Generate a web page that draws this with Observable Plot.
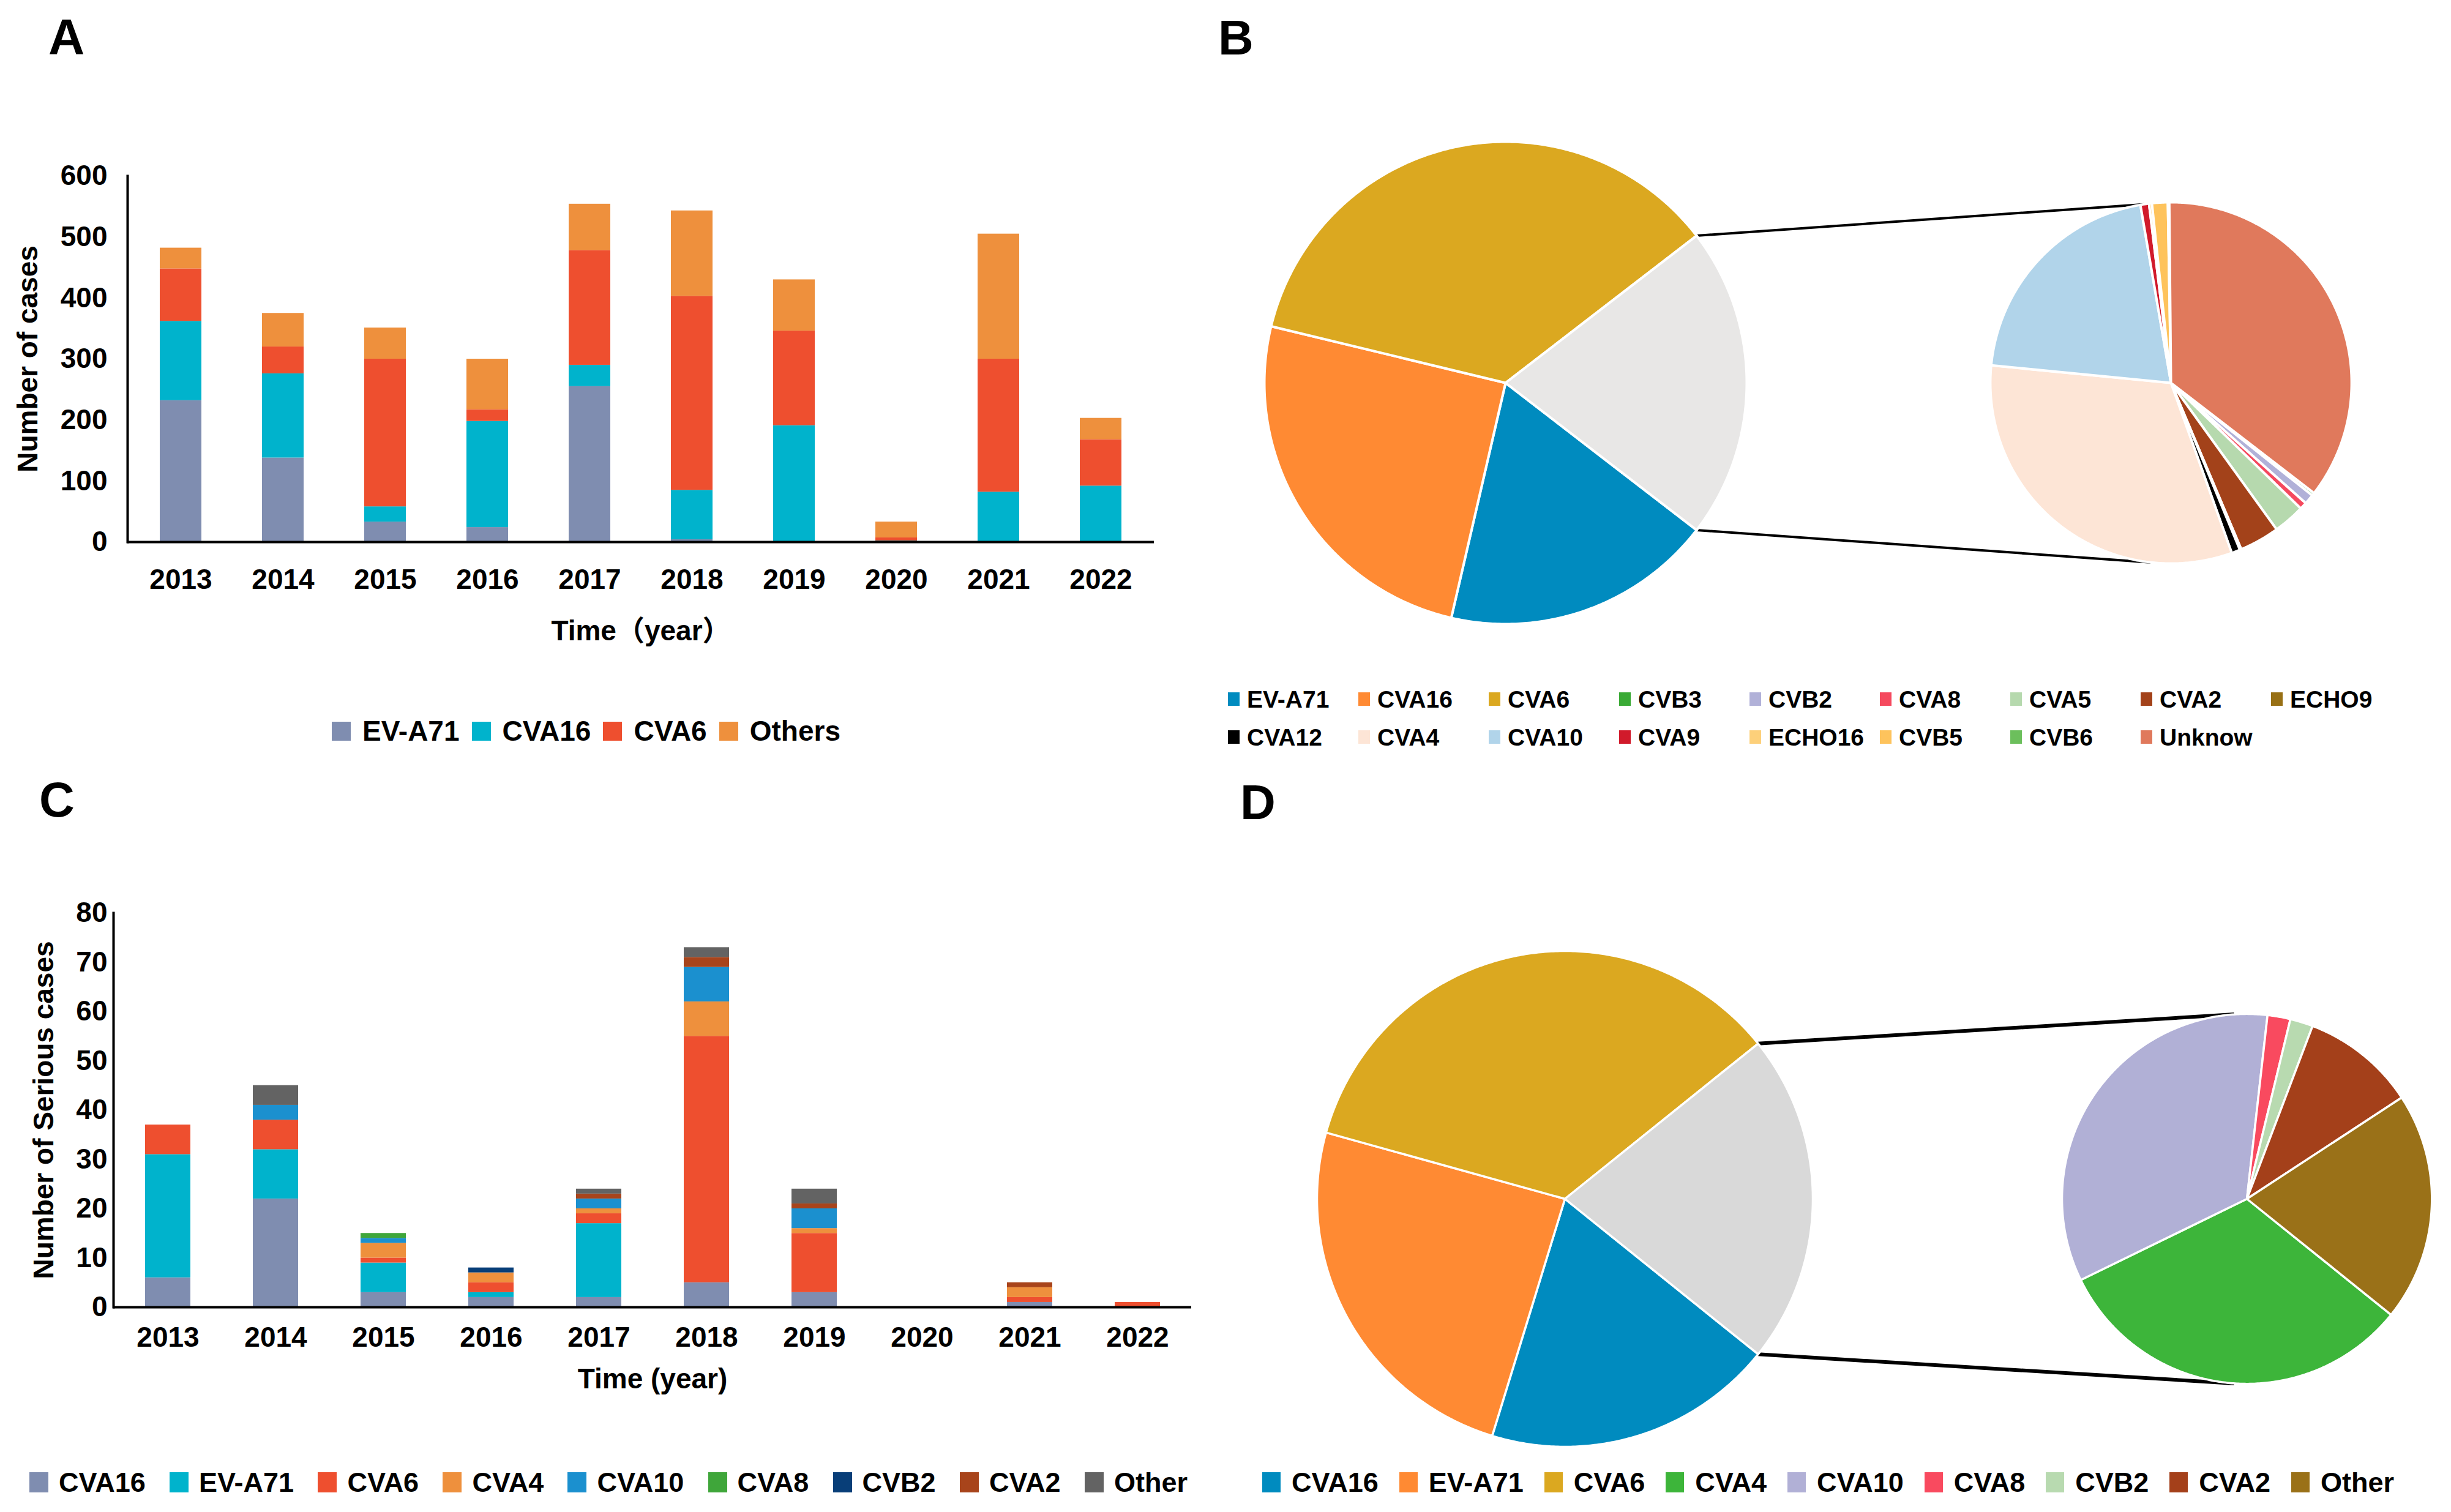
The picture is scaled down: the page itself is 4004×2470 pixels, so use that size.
<!DOCTYPE html>
<html><head><meta charset="utf-8">
<script src="https://cdn.jsdelivr.net/npm/d3@7"></script>
<script src="https://cdn.jsdelivr.net/npm/@observablehq/plot@0.6"></script>
<style>
html,body{margin:0;padding:0;background:#fff;width:4004px;height:2470px;overflow:hidden;}
#root{position:relative;width:4004px;height:2470px;overflow:hidden;font-family:"Liberation Sans",Arial,"Noto Sans CJK SC",sans-serif;font-weight:bold;color:#000;}
</style></head><body><div id="root"></div>
<script>
// ---------- DATA ----------
const years = ["2013","2014","2015","2016","2017","2018","2019","2020","2021","2022"];

// Panel A: number of cases
const seriesA = ["EV-A71","CVA16","CVA6","Others"];
const aEVA71  = [232,138, 33, 24,255,  4,  0,  0,  0,  0];
const aCVA16  = [130,138, 25,174, 35, 81,191,  2, 82, 92];
const aCVA6   = [ 86, 44,242, 19,188,318,155,  5,218, 76];
const aOthers = [ 34, 55, 51, 83, 76,140, 84, 26,205, 35];
const colorsA = ["#7f8db0","#00b3cc","#ee4f2f","#ee903d"];
const ticksA = [0,100,200,300,400,500,600];

// Panel C: number of serious cases
const seriesC = ["CVA16","EV-A71","CVA6","CVA4","CVA10","CVA8","CVB2","CVA2","Other"];
const cCVA16 = [6,22,3,2,2,5,3,0,1,0];
const cEVA71 = [25,10,6,1,15,0,0,0,0,0];
const cCVA6  = [6,6,1,2,2,50,12,0,1,1];
const cCVA4  = [0,0,3,2,1,7,1,0,2,0];
const cCVA10 = [0,3,1,0,2,7,4,0,0,0];
const cCVA8  = [0,0,1,0,0,0,0,0,0,0];
const cCVB2  = [0,0,0,1,0,0,0,0,0,0];
const cCVA2  = [0,0,0,0,1,2,1,0,1,0];
const cOther = [0,4,0,0,1,2,3,0,0,0];
const colorsC = ["#7f8db0","#00b3cc","#ee4f2f","#ee903d","#1b90cf","#3fa63a","#083e78","#a8441b","#636363"];
const ticksC = [0,10,20,30,40,50,60,70,80];

// Panel B: pie of pie
const bMainLabels = ["EV-A71","CVA16","CVA6","Others"];
const bMainValues = [686,950,1351,789];
const bMainColors = ["#008bbf","#ff8a33","#dba820","#e8e7e6"];
const bSubLabels = ["CVB3","CVB2","CVA8","CVA5","CVA2","ECHO9","CVA12","CVA4","CVA10","CVA9","ECHO16","CVB5","CVB6","Unknow"];
const bSubValues = [2,7,5,22,28,1,6,250,162,6,2,11,1,278];
const bSubColors = ["#3aaa35","#b1b1d8","#f5495e","#b6d9ae","#a3421a","#987015","#000000","#fde5d6","#b1d4ea","#d11a2b","#fdd07a","#fec35c","#6cbf5c","#e0795c"];
const bLegendLabels = ["EV-A71","CVA16","CVA6","CVB3","CVB2","CVA8","CVA5","CVA2","ECHO9","CVA12","CVA4","CVA10","CVA9","ECHO16","CVB5","CVB6","Unknow"];

// Panel D: pie of pie
const dMainLabels = ["CVA16","EV-A71","CVA6","Others"];
const dMainValues = [44,57,81,50];
const dMainColors = ["#008bbf","#ff8a33","#dba820","#d9d9d9"];
const dSubLabels = ["CVA4","CVA10","CVA8","CVB2","CVA2","Other"];
const dSubValues = [16,17,1,1,5,10];
const dSubColors = ["#3db53a","#b1b0d6","#f94a5f","#b8dab0","#a4401a","#9a7118"];

// ---------- HELPERS ----------
const FONT = '"Liberation Sans", Arial, "Noto Sans CJK SC", sans-serif';
const root = document.getElementById("root");
function place(el, left, top) {
  el.style.position = "absolute"; el.style.left = left + "px"; el.style.top = top + "px";
  root.appendChild(el);
}
function longData(series, arrays) {
  const out = [];
  years.forEach((y, j) => series.forEach((s, i) => out.push({year: y, series: s, value: arrays[i][j]})));
  return out;
}
function panelLetter(t, left, capTop, fs) {
  const d = document.createElement("div");
  d.textContent = t;
  d.style.cssText = `font-size:${fs}px;line-height:1;font-weight:bold;`;
  place(d, left, capTop - 0.13 * fs);
}
function flexLegend(labels, colors, o) {
  const div = document.createElement("div");
  div.style.cssText = `display:flex;align-items:center;font-size:${o.fs}px;line-height:1;height:${o.fs}px;` +
    (o.width ? `width:${o.width}px;justify-content:space-between;` : "");
  labels.forEach((name, i) => {
    const it = document.createElement("div");
    it.style.cssText = `display:flex;align-items:center;white-space:nowrap;` +
      (!o.width && i < labels.length - 1 ? `margin-right:${o.itemGap}px;` : "");
    const s = document.createElement("span");
    s.style.cssText = `display:inline-block;width:${o.sw}px;height:${o.sh}px;background:${colors[i]};margin-right:${o.gap}px;`;
    const t = document.createElement("span");
    t.textContent = name;
    it.append(s, t);
    div.append(it);
  });
  place(div, o.left, o.cy - o.fs / 2);
}
function gridLegend(labels, colors, o) {
  labels.forEach((name, i) => {
    const row = Math.floor(i / o.cols), col = i % o.cols;
    const it = document.createElement("div");
    it.style.cssText = `display:flex;align-items:center;white-space:nowrap;font-size:${o.fs}px;line-height:1;height:${o.fs}px;`;
    const s = document.createElement("span");
    s.style.cssText = `display:inline-block;width:${o.sw}px;height:${o.sh}px;background:${colors[i]};margin-right:${o.gap}px;`;
    const t = document.createElement("span");
    t.textContent = name;
    it.append(s, t);
    place(it, o.left + col * o.colW, o.rows[row] - o.fs / 2);
  });
}

function barPanel(cfg) {
  return Plot.plot({
    width: cfg.W, height: cfg.H,
    marginLeft: cfg.mL, marginRight: cfg.mR, marginTop: cfg.mT, marginBottom: cfg.mB,
    style: {fontFamily: FONT, fontWeight: "bold", fontSize: cfg.fs + "px", color: "#000", background: "none", overflow: "visible"},
    x: {type: "band", domain: years, paddingInner: cfg.pad, paddingOuter: cfg.pad / 2},
    y: {domain: [cfg.ticks[0], cfg.ticks[cfg.ticks.length - 1]]},
    color: {domain: cfg.series, range: cfg.colors},
    marks: [
      Plot.barY(cfg.data, {x: "year", y: "value", fill: "series", order: cfg.series}),
      Plot.ruleY([0], {stroke: "#000", strokeWidth: cfg.axW}),
      Plot.frame({anchor: "left", stroke: "#000", strokeWidth: cfg.axW}),
      Plot.axisX({tickSize: 0, tickPadding: cfg.xPad, label: cfg.xTitle, labelAnchor: "center", labelOffset: cfg.xLabOff, labelArrow: "none"}),
      Plot.axisY({ticks: cfg.ticks, tickSize: 0, tickPadding: cfg.yPad, tickFormat: d => String(d), label: cfg.yTitle, labelAnchor: "center", labelOffset: cfg.yLabOff, labelArrow: "none"})
    ]
  });
}

function slices(id, labels, values, colors, cx, cy, r, startDeg) {
  const total = d3.sum(values);
  const pts = [];
  let a = startDeg;
  labels.forEach((lab, i) => {
    const span = values[i] / total * 360;
    const key = id + ":" + lab;
    const n = Math.max(2, Math.ceil(span / 0.5));
    pts.push({key, color: colors[i], x: cx, y: cy});
    for (let k = 0; k <= n; k++) {
      const t = (a + span * k / n) * Math.PI / 180;
      pts.push({key, color: colors[i], x: cx + r * Math.sin(t), y: cy + r * Math.cos(t)});
    }
    pts.push({key, color: colors[i], x: cx, y: cy});
    a += span;
  });
  return pts;
}

function piePanel(cfg) {
  const total = d3.sum(cfg.mainValues);
  const oSpan = cfg.mainValues[cfg.mainValues.length - 1] / total * 360;
  const start = 90 + oSpan / 2;
  const pts = [
    ...slices("m", cfg.mainLabels, cfg.mainValues, cfg.mainColors, 0, 0, 1, start),
    ...slices("s", cfg.subLabels, cfg.subValues, cfg.subColors, cfg.dist, 0, cfg.r2, start)
  ];
  const pt = (x0, r, deg) => ({x: x0 + r * Math.sin(deg * Math.PI / 180), y: r * Math.cos(deg * Math.PI / 180)});
  const a = pt(0, 1, 90 - oSpan / 2), b = pt(cfg.dist, cfg.r2, cfg.conn[0]);
  const c = pt(0, 1, 90 + oSpan / 2), d = pt(cfg.dist, cfg.r2, cfg.conn[1]);
  const links = [{x1: a.x, y1: a.y, x2: b.x, y2: b.y}, {x1: c.x, y1: c.y, x2: d.x, y2: d.y}];
  return Plot.plot({
    width: cfg.W, height: cfg.H, margin: 0,
    x: {domain: [-cfg.cx / cfg.u, (cfg.W - cfg.cx) / cfg.u], axis: null},
    y: {domain: [-(cfg.H - cfg.cy) / cfg.u, cfg.cy / cfg.u], axis: null},
    color: {type: "identity"},
    style: {background: "none", overflow: "visible"},
    marks: [
      Plot.link(links, {x1: "x1", y1: "y1", x2: "x2", y2: "y2", stroke: "#000", strokeWidth: cfg.cw}),
      Plot.line(pts, {x: "x", y: "y", z: "key", fill: "color", stroke: "#fff", strokeWidth: cfg.sw, strokeLinejoin: "round", curve: "linear"})
    ]
  });
}

// ---------- PANEL A ----------
const plotA = barPanel({
  W: 1950, H: 810, mL: 208, mR: 65, mT: 37, mB: 175, fs: 46, pad: 0.59, axW: 4,
  ticks: ticksA, series: seriesA, colors: colorsA,
  data: longData(seriesA, [aEVA71, aCVA16, aCVA6, aOthers]),
  xPad: 44, xTitle: "Time（year）", xLabOff: 160,
  yPad: 33, yTitle: "Number of cases", yLabOff: 180
});
place(plotA, 0, 250);
flexLegend(seriesA, colorsA, {left: 542, cy: 1194, fs: 46, sw: 31, sh: 31, gap: 19, itemGap: 20});

// ---------- PANEL C ----------
const plotC = barPanel({
  W: 2000, H: 900, mL: 185, mR: 54, mT: 71, mB: 185, fs: 46, pad: 0.58, axW: 4,
  ticks: ticksC, series: seriesC, colors: colorsC,
  data: longData(seriesC, [cCVA16, cEVA71, cCVA6, cCVA4, cCVA10, cCVA8, cCVB2, cCVA2, cOther]),
  xPad: 32, xTitle: "Time (year)", xLabOff: 132,
  yPad: 10, yTitle: "Number of Serious cases", yLabOff: 131
});
place(plotC, 0, 1420);
flexLegend(seriesC, colorsC, {left: 48, width: 1892, cy: 2421, fs: 45, sw: 31, sh: 33, gap: 17});

// ---------- PANEL B ----------
const plotB = piePanel({
  W: 2004, H: 960, u: 394, cx: 459, cy: 485, dist: 2.759, r2: 0.749, conn: [-8.5, 186.5], sw: 4, cw: 4,
  mainLabels: bMainLabels, mainValues: bMainValues, mainColors: bMainColors,
  subLabels: bSubLabels, subValues: bSubValues, subColors: bSubColors
});
place(plotB, 2000, 140);
const bLegendColors = bLegendLabels.map(l => {
  const i = bMainLabels.indexOf(l);
  return i >= 0 ? bMainColors[i] : bSubColors[bSubLabels.indexOf(l)];
});
gridLegend(bLegendLabels, bLegendColors, {left: 2006, colW: 213, cols: 9, rows: [1142, 1204], fs: 39, sw: 19, sh: 22, gap: 12});

// ---------- PANEL D ----------
const plotD = piePanel({
  W: 2004, H: 880, u: 405, cx: 556, cy: 458, dist: 2.751, r2: 0.746, conn: [-4, 184], sw: 3.5, cw: 6,
  mainLabels: dMainLabels, mainValues: dMainValues, mainColors: dMainColors,
  subLabels: dSubLabels, subValues: dSubValues, subColors: dSubColors
});
place(plotD, 2000, 1500);
flexLegend(["CVA16","EV-A71","CVA6","CVA4","CVA10","CVA8","CVB2","CVA2","Other"],
  [dMainColors[0], dMainColors[1], dMainColors[2], ...dSubColors],
  {left: 2062, width: 1849, cy: 2421, fs: 45, sw: 30, sh: 33, gap: 18});

// ---------- PANEL LETTERS ----------
panelLetter("A", 79, 30, 82);
panelLetter("B", 1990, 32, 80);
panelLetter("C", 64, 1277, 80);
panelLetter("D", 2026, 1281, 80);
</script></body></html>
